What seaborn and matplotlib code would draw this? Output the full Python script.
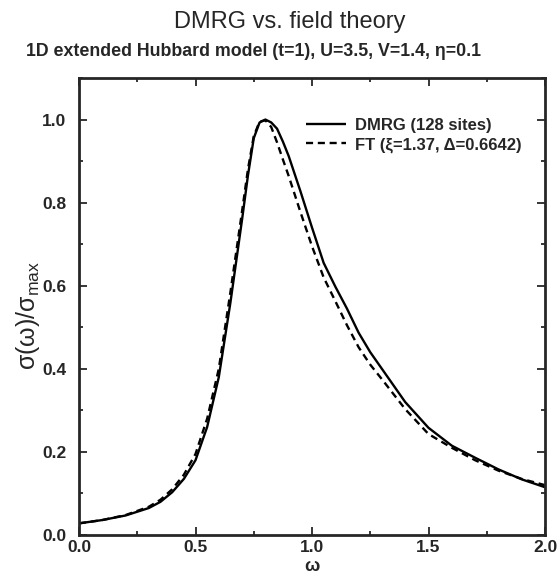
import numpy as np
import pandas as pd
import seaborn as sns
import matplotlib
matplotlib.use("Agg")
import matplotlib.pyplot as plt
from matplotlib.ticker import MultipleLocator

omega = [0.0, 0.1, 0.2, 0.3, 0.35, 0.4, 0.45, 0.5, 0.55, 0.6, 0.65, 0.7, 0.725, 0.75,
         0.775, 0.8, 0.825, 0.85, 0.875, 0.9, 0.95, 1.0, 1.05, 1.1, 1.15, 1.2, 1.25,
         1.3, 1.4, 1.5, 1.6, 1.7, 1.8, 1.9, 2.0]
dmrg = [0.028, 0.036, 0.047, 0.065, 0.08, 0.103, 0.135, 0.18, 0.26, 0.38, 0.56, 0.76, 0.865, 0.955,
        0.993, 1.0, 0.993, 0.978, 0.947, 0.912, 0.828, 0.74, 0.655, 0.598, 0.545, 0.487, 0.44,
        0.40, 0.32, 0.258, 0.215, 0.186, 0.158, 0.134, 0.115]
ft = [0.028, 0.036, 0.048, 0.068, 0.085, 0.11, 0.145, 0.195, 0.28, 0.40, 0.585, 0.78, 0.88, 0.96,
      0.995, 0.998, 0.982, 0.945, 0.904, 0.864, 0.778, 0.695, 0.62, 0.563, 0.505, 0.452, 0.41,
      0.375, 0.303, 0.243, 0.21, 0.18, 0.155, 0.135, 0.12]

labels = ["DMRG (128 sites)", "FT (ξ=1.37, Δ=0.6642)"]
df = pd.DataFrame({
    "omega": omega * 2,
    "sigma": dmrg + ft,
    "series": [labels[0]] * len(omega) + [labels[1]] * len(omega),
})

sns.set_style("ticks")
plt.rcParams['font.family'] = ['Liberation Sans', 'DejaVu Sans']
plt.rcParams['mathtext.fontset'] = 'custom'
plt.rcParams['mathtext.rm'] = 'Liberation Sans'
plt.rcParams['mathtext.it'] = 'Liberation Sans'

fig = plt.figure(figsize=(5.58, 5.85), dpi=100)
ax = fig.add_axes([79/558, 1-535/585, (545-79)/558, (535-78)/585])

sns.lineplot(data=df, x="omega", y="sigma", hue="series", style="series",
             palette=["black", "black"], dashes=[(1, 0), (3, 2)],
             linewidth=1.7, ax=ax, legend=True)

ax.set_xlim(0, 2.0)
ax.set_ylim(0, 1.1)
ax.xaxis.set_minor_locator(MultipleLocator(0.25))
ax.yaxis.set_minor_locator(MultipleLocator(0.1))
ax.set_xticks([0, 0.5, 1.0, 1.5, 2.0])
ax.set_xticklabels(["0.0", "0.5", "1.0", "1.5", "2.0"], fontweight='bold')
ax.set_yticks([0, 0.2, 0.4, 0.6, 0.8, 1.0])
ax.set_yticklabels(["0.0", "0.2", "0.4", "0.6", "0.8", "1.0"], fontweight='bold')
ax.tick_params(which='both', direction='in', top=True, right=True, width=1.3)
ax.tick_params(which='major', length=6, labelsize=12.5)
ax.tick_params(axis='y', which='major', pad=9)
ax.tick_params(which='minor', length=3)
for s in ax.spines.values():
    s.set_linewidth(2)

ax.set_xlabel("ω", fontsize=13, fontweight='bold', labelpad=2)
ax.set_ylabel(r"σ(ω)/σ$_{\mathrm{max}}$", fontsize=18, labelpad=2)
ax.yaxis.set_label_coords(-0.079, 0.48)

leg = ax.legend(title=None, frameon=False, loc='upper left',
                bbox_to_anchor=(0.455, 0.945), handlelength=2.4, handletextpad=0.55,
                prop={'size': 12, 'weight': 'bold'}, labelspacing=0.25)

fig.text(290/558, 1-22/585, "DMRG vs. field theory", ha='center', va='center', fontsize=17)
fig.text(254/558, 1-52/585, "1D extended Hubbard model (t=1), U=3.5, V=1.4, η=0.1",
         ha='center', va='center', fontsize=12.8, fontweight='bold')

fig.savefig("out.png", dpi=100)
